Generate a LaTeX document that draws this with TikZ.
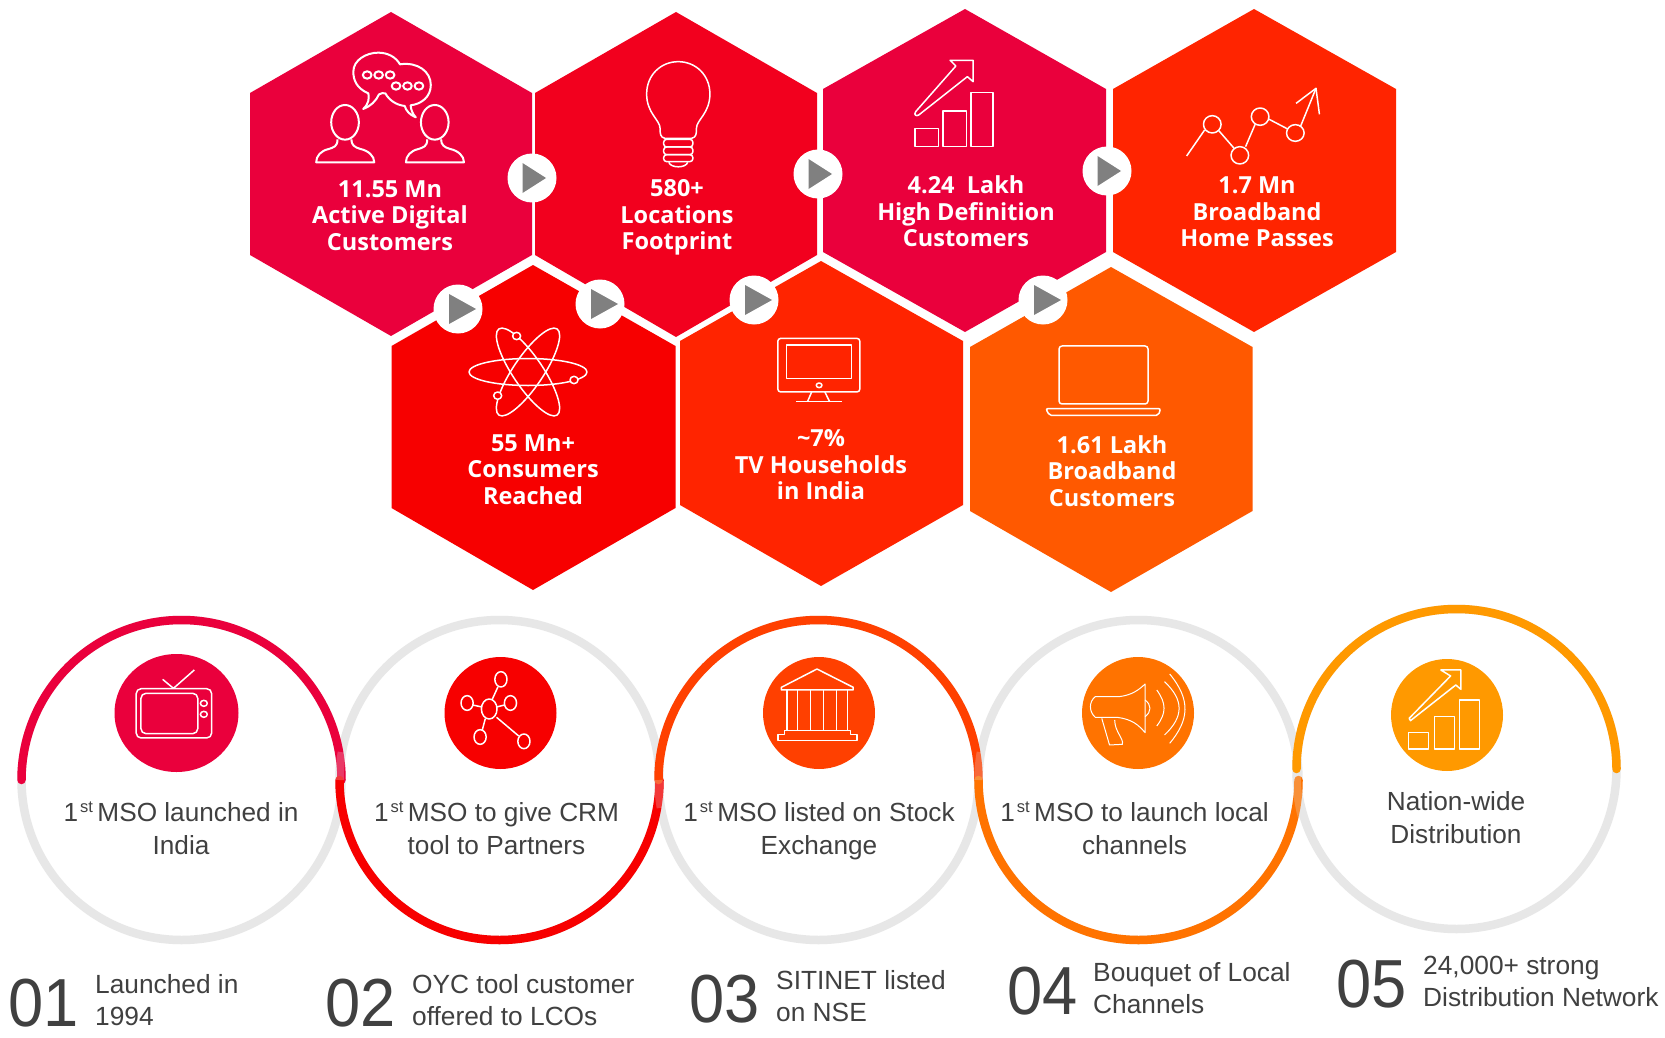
\documentclass[tikz,border=0pt]{standalone}
\usepackage{fontspec}
\usepackage{graphicx}
\setmainfont{Liberation Sans}
\newfontfamily\hexfont{Open Sans}[BoldFont={Open Sans Bold}]
\definecolor{cA}{HTML}{EA003C}
\definecolor{cB}{HTML}{F2001E}
\definecolor{cC}{HTML}{F70000}
\definecolor{cD}{HTML}{FF2400}
\definecolor{cE}{HTML}{FF5900}
\definecolor{cF}{HTML}{FF4000}
\definecolor{cG}{HTML}{FF7300}
\definecolor{cH}{HTML}{FF9900}
\definecolor{ring}{HTML}{E7E7E7}
\definecolor{ink}{HTML}{404040}
\definecolor{playgrey}{HTML}{808080}
\tikzset{
  hexlabel/.style={inner sep=0pt,text=white,align=center,font=\hexfont\bfseries\fontsize{23.5}{26.4}\selectfont},
  circlelabel/.style={inner sep=0pt,text=ink,align=center,font=\fontsize{26.2}{32.8}\selectfont},
  sidelabel/.style={inner sep=0pt,text=ink,align=left,anchor=west,font=\fontsize{26.3}{32}\selectfont},
  bignum/.style={inner sep=0pt,text=ink,anchor=west,font=\fontsize{68}{70}\selectfont},
  icon/.style={draw=white,line width=1.5pt,line join=round},
  thick icon/.style={draw=white,line width=2pt,line join=round},
  ringline/.style={line width=8.5pt,draw=ring},
  arcline/.style={line width=8.5pt,line cap=round},
  overlapline/.style={line width=8.5pt,draw=ring,opacity=0.25},
  zoomA/.style={shift={(230pt,0pt)},x=0.3953pt,y=-0.3333pt},
  zoomB/.style={shift={(820pt,0pt)},x=0.3827pt,y=-0.3333pt},
  zoomC/.style={shift={(380pt,-260pt)},x=0.574pt,y=-0.3333pt},
  zoomD/.style={shift={(0pt,-610pt)},x=0.4337pt,y=-0.3333pt},
  zoomE/.style={shift={(650pt,-600pt)},x=0.6472pt,y=-0.3333pt},
}
\newcommand{\ordst}{1\hspace{2pt}\raisebox{9pt}{\fontsize{16.5}{16.5}\selectfont st}\hspace{4.5pt}}
\newcommand{\playupper}[2]{%
  \fill[white] (#1,#2) circle (24.5pt);
  \fill[playgrey] (#1-9.5,#2-15) -- (#1+14,#2) -- (#1-9.5,#2+15) -- cycle;}
\newcommand{\playlower}[2]{%
  \fill[white] (#1,#2) circle (24.5pt);
  \fill[playgrey] (#1-9,#2-15) -- (#1+18,#2) -- (#1-9,#2+15) -- cycle;}
\begin{document}
\begin{tikzpicture}[x=1pt,y=-1pt]
\useasboundingbox (0,0) rectangle (1665,1038);
\fill[white] (0,0) rectangle (1665,1038);
% hexagons
\fill[cA] (391,12) -- (532,93) -- (532,255) -- (391,336) -- (250,255) -- (250,93) -- cycle;
\fill[cB] (676,12) -- (817,93) -- (817,255) -- (676,337) -- (535,255) -- (535,93) -- cycle;
\fill[cA] (965,9) -- (1106,89) -- (1106,252) -- (965,332) -- (823,252) -- (823,89) -- cycle;
\fill[cD] (1254,9) -- (1396,89) -- (1396,252) -- (1254,332) -- (1113,252) -- (1113,89) -- cycle;
\fill[cC] (533,265) -- (675.5,346) -- (675.5,508) -- (533,590) -- (391.5,508) -- (391.5,346) -- cycle;
\fill[cD] (821,261) -- (963,341) -- (963,505) -- (821,586) -- (680,505) -- (680,341) -- cycle;
\fill[cE] (1111,267) -- (1252.5,347) -- (1252.5,511) -- (1111,592) -- (970,511) -- (970,347) -- cycle;
% play buttons
\playupper{532}{178}
\playupper{818}{174}
\playupper{1107}{171}
\playlower{458}{309}
\playlower{600}{304}
\playlower{754}{300}
\playlower{1043}{300}
% hexagon labels
\node[hexlabel] (h1) at (390,215.5) {11.55 Mn\\Active Digital\\Customers};
\node[hexlabel] (h2) at (677,217.5) {580+\\Locations\\Footprint};
\node[hexlabel] (h3) at (966,211.5) {4.24\ \ Lakh\\High Definition\\Customers};
\node[hexlabel] (h4) at (1257,212) {1.7 Mn\\Broadband\\Home Passes};
\node[hexlabel] (h5) at (533,469.5) {55 Mn+\\Consumers\\Reached};
\node[hexlabel] (h6) at (821,465) {\textasciitilde7\%\\TV Households\\in India};
\node[hexlabel] (h7) at (1112,471) {1.61 Lakh\\Broadband\\Customers};
% icon: people talking
\begin{scope}[zoomA]
\draw[thick icon] (291,367) ellipse [x radius=35,y radius=52];
\draw[thick icon] (518,367) ellipse [x radius=35,y radius=52];
\draw[thick icon] (272,418) .. controls (272,440) and (262,442) .. (250,447) .. controls (230,452) and (218,468) .. (218,487) -- (365,487) .. controls (365,468) and (350,452) .. (330,447) .. controls (315,442) and (307,435) .. (307,418);
\draw[thick icon] (499,418) .. controls (499,440) and (489,442) .. (477,447) .. controls (457,452) and (445,468) .. (445,487) -- (592,487) .. controls (592,468) and (577,452) .. (557,447) .. controls (542,442) and (534,435) .. (534,418);
\draw[thick icon] (337,327) .. controls (352,310) and (352,295) .. (350,280) .. controls (320,265) and (312,240) .. (312,215) .. controls (312,180) and (345,158) .. (375,158) .. controls (400,158) and (420,172) .. (430,193) .. controls (475,185) and (508,215) .. (508,255) .. controls (508,290) and (485,312) .. (457,316) .. controls (458,330) and (462,342) .. (470,352) .. controls (455,345) and (445,332) .. (442,318) .. controls (420,315) and (402,300) .. (393,280) .. controls (388,278) and (382,280) .. (377,283) .. controls (370,302) and (355,320) .. (337,327) -- cycle;
\foreach \p in {(347,225),(376,225),(405,225),(420,258),(449,258),(478,258)}
  \draw[thick icon] \p ellipse [x radius=11,y radius=11];
% icon: bulb
\draw[icon] (1100,415) .. controls (1088,412) and (1088,400) .. (1088,385) .. controls (1088,360) and (1054,340) .. (1054,282) .. controls (1054,225) and (1090,185) .. (1134,185) .. controls (1178,185) and (1214,225) .. (1214,282) .. controls (1214,340) and (1180,360) .. (1180,385) .. controls (1180,400) and (1180,412) .. (1168,415) -- cycle;
\draw[icon,rounded corners=3pt] (1097,418) rectangle (1171,441);
\draw[icon,rounded corners=3pt] (1097,441) rectangle (1171,464);
\draw[icon,rounded corners=3pt] (1097,464) rectangle (1171,485);
\draw[icon] (1110,487) .. controls (1115,505) and (1153,505) .. (1158,487);
\end{scope}
% icon: chart with arrow, and trend line
\begin{scope}[zoomB]
\draw[icon] (248,385) rectangle (310,440);
\draw[icon] (321,333) rectangle (383,440);
\draw[icon] (394,278) rectangle (452,440);
\draw[icon] (340,181) -- (400,181) -- (400,245) -- (385,230) -- (258,345) .. controls (252,350) and (244,345) .. (250,335) -- (355,198) -- cycle;
\draw[icon] (958,468) -- (1005,390);
\draw[icon] (1025,373) ellipse [x radius=23,y radius=26];
\draw[icon] (1042,392) -- (1082,445);
\draw[icon] (1097,466) ellipse [x radius=23,y radius=26];
\draw[icon] (1112,440) -- (1137,373);
\draw[icon] (1150,350) ellipse [x radius=23,y radius=26];
\draw[icon] (1172,357) -- (1222,387);
\draw[icon] (1242,399) ellipse [x radius=23,y radius=25];
\draw[icon] (1256,378) -- (1296,265);
\draw[icon] (1244,310) -- (1296,265) -- (1305,343);
\end{scope}
% icon: atom
\draw[icon] (528,372) ellipse [x radius=59,y radius=13.5];
\draw[icon,rotate around={56:(528,372)}] (528,372) ellipse [x radius=52,y radius=15];
\draw[icon,rotate around={-56:(528,372)}] (528,372) ellipse [x radius=52,y radius=15];
\begin{scope}[zoomC]
\foreach \p in {(238,228),(338,360),(205,407)}
  \draw[icon,fill=cC] \p ellipse [x radius=7,y radius=11];
% icon: monitor
\draw[icon,rounded corners=3pt] (693,235) rectangle (836,396);
\draw[icon] (708,255) rectangle (821,355);
\draw[icon] (765,376) ellipse [x radius=5,y radius=7];
\draw[icon] (752,396) -- (745,424);
\draw[icon] (775,396) -- (783,424);
\draw[icon] (725,425) -- (805,425);
% icon: laptop
\draw[icon,rounded corners=3pt] (1183,258) rectangle (1338,432);
\draw[icon,rounded corners=2pt] (1160,446) -- (1360,446) -- (1356,466) -- (1166,466) -- cycle;
\end{scope}
% rings
\draw[ringline] (181.5,780) circle (160pt);
\draw[ringline] (499.5,780) circle (160pt);
\draw[ringline] (818.5,780) circle (160pt);
\draw[ringline] (1138.5,780) circle (160pt);
\draw[ringline] (1456.5,769) circle (160pt);
\draw[arcline,cA] (21.5,780) arc [start angle=180,end angle=0,radius=160pt];
\draw[arcline,cC] (339.5,780) arc [start angle=180,end angle=360,radius=160pt];
\draw[arcline,cF] (658.5,780) arc [start angle=180,end angle=0,radius=160pt];
\draw[arcline,cG] (978.5,780) arc [start angle=180,end angle=360,radius=160pt];
\draw[arcline,cH] (1296.5,769) arc [start angle=180,end angle=0,radius=160pt];
% lighter patches where a grey ring passes over a coloured arc
\draw[overlapline] (339.5,780) arc [start angle=180,end angle=170,radius=160pt];
\draw[overlapline] (658.5,780) arc [start angle=180,end angle=190,radius=160pt];
\draw[overlapline] (978.5,780) arc [start angle=180,end angle=170,radius=160pt];
\draw[overlapline] (1296.5,775) arc [start angle=180,end angle=195,radius=160pt];
% icon discs
\fill[cA] (176.5,713) ellipse [x radius=62,y radius=59];
\fill[cC] (500.5,713) circle (56pt);
\fill[cF] (819,713) circle (56pt);
\fill[cG] (1138,713) circle (56pt);
\fill[cH] (1447,715) circle (56pt);
% icon: tv
\begin{scope}[zoomD]
\draw[icon,rounded corners=5pt] (314,236) rectangle (488,384);
\draw[icon,rounded corners=5pt] (325,250) rectangle (456,371);
\draw[icon] (470,280) ellipse [x radius=8,y radius=9];
\draw[icon] (470,313) ellipse [x radius=8,y radius=9];
\draw[icon] (375,208) -- (400,235) -- (448,180);
% icon: network
\draw[icon] (1128,297) ellipse [x radius=18,y radius=30];
\draw[icon] (1155,208) ellipse [x radius=14,y radius=23];
\draw[icon] (1077,279) ellipse [x radius=14,y radius=22];
\draw[icon] (1177,279) ellipse [x radius=14,y radius=22];
\draw[icon] (1107,381) ellipse [x radius=14,y radius=22];
\draw[icon] (1208,394) ellipse [x radius=14,y radius=22];
\draw[icon] (1148,231) -- (1135,268);
\draw[icon] (1090,285) -- (1111,291);
\draw[icon] (1163,285) -- (1145,291);
\draw[icon] (1119,326) -- (1112,360);
\draw[icon] (1145,322) -- (1196,378);
\end{scope}
\begin{scope}[zoomE]
% icon: temple
\draw[icon] (203,262) -- (258,207) -- (314,262) -- (314,270) -- (203,270) -- cycle;
\foreach \c in {212,228,248,268,288,305}
  \draw[icon] (\c,270) -- (\c,392);
\draw[icon] (208,392) -- (310,392) -- (310,403) -- (320,403) -- (320,422) -- (198,422) -- (198,403) -- (208,403) -- cycle;
% icon: megaphone
\draw[icon,line width=1pt] (688,290) -- (725,290) .. controls (745,285) and (755,270) .. (765,252) -- (765,398) .. controls (755,375) and (745,358) .. (722,352) -- (688,352) .. controls (678,335) and (678,305) .. (688,290) -- cycle;
\draw[icon,line width=1pt] (765,300) .. controls (775,315) and (775,335) .. (765,350);
\draw[icon,line width=1pt] (698,355) -- (710,435) -- (730,433) .. controls (732,415) and (718,395) .. (718,360);
\draw[icon,line width=1pt] (783,270) .. controls (798,310) and (798,340) .. (783,378);
\draw[icon,line width=1pt] (795,245) .. controls (825,300) and (825,350) .. (795,405);
\draw[icon,line width=1pt] (803,222) .. controls (836,300) and (833,360) .. (803,430);
% icon: chart
\draw[icon] (1222,210) -- (1253,210) -- (1253,268) -- (1245,255) -- (1175,362) -- (1173,355) -- (1237,228) -- cycle;
\draw[icon] (1172,398) rectangle (1203,447);
\draw[icon] (1212,350) rectangle (1243,447);
\draw[icon] (1251,300) rectangle (1282,447);
\end{scope}
% ring labels
\node[circlelabel] (c1) at (181,828) {\ordst MSO launched in\\India};
\node[circlelabel] (c2) at (496.5,828) {\ordst MSO to give CRM\\tool to Partners};
\node[circlelabel] (c3) at (819,831) {\ordst MSO listed on Stock\\Exchange};
\node[circlelabel] (c4) at (1134.5,828) {\ordst MSO to launch local\\channels};
\node[circlelabel] (c5) at (1456,818) {Nation-wide\\Distribution};
% bottom captions
\node[bignum] (n1) at (8,1003) {\scalebox{0.93}[1]{01}};
\node[sidelabel] (s1) at (95,1000) {Launched in\\1994};
\node[bignum] (n2) at (325,1003) {\scalebox{0.93}[1]{02}};
\node[sidelabel] (s2) at (412,1000.5) {OYC tool customer\\offered to LCOs};
\node[bignum] (n3) at (689,999) {\scalebox{0.93}[1]{03}};
\node[sidelabel] (s3) at (776,996) {SITINET listed\\on NSE};
\node[bignum] (n4) at (1007,991) {\scalebox{0.93}[1]{04}};
\node[sidelabel] (s4) at (1093,988) {Bouquet of Local\\Channels};
\node[bignum] (n5) at (1336,984) {\scalebox{0.93}[1]{05}};
\node[sidelabel] (s5) at (1423,981) {24,000+ strong\\Distribution Network};
\end{tikzpicture}
\end{document}
